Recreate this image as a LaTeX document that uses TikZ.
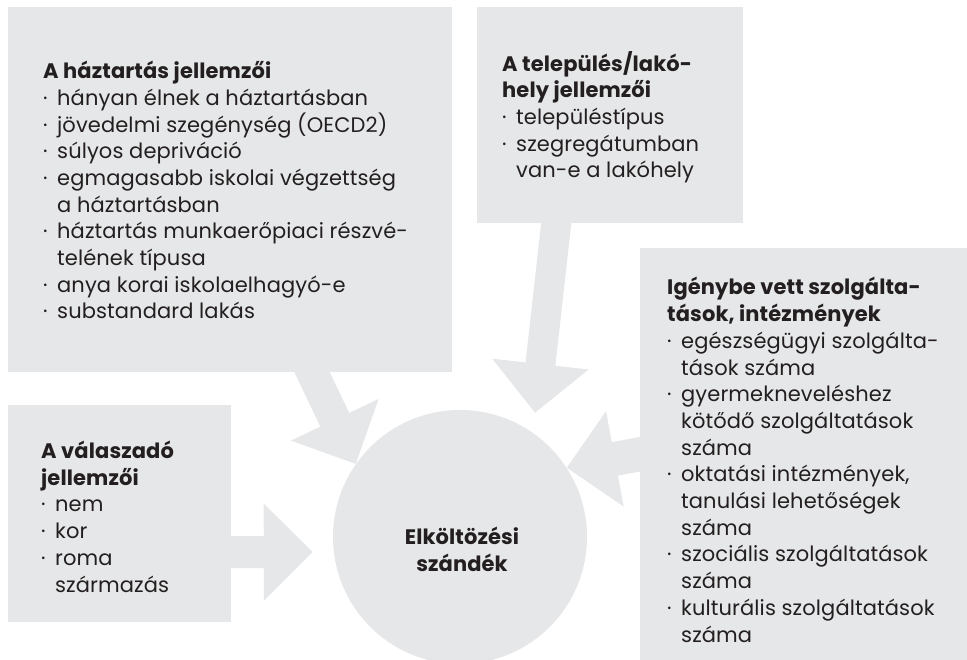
\documentclass[tikz,border=0pt]{standalone}
\usepackage{fontspec}
\setmainfont[LetterSpace=0.5]{Poppins}
\usetikzlibrary{arrows.meta,positioning}
\definecolor{szurke}{HTML}{E6E7E8}
\definecolor{sotet}{HTML}{231F20}
\newcommand{\pont}{\makebox[14pt][l]{·}}
\newcommand{\beh}{\hspace*{14pt}}

\begin{document}
\begin{tikzpicture}[x=1pt, y=-1pt]
    % Define styles
    \tikzstyle{doboz} = [rectangle, fill=szurke, inner sep=0pt, anchor=north west]
    \tikzstyle{lista} = [align=left, inner sep=0pt, anchor=base west, text=sotet, font=\fontsize{21}{26.7}\selectfont]
    \tikzstyle{nyil} = [draw=szurke, line width=32pt, -{Triangle[length=49pt, width=94pt]}]
    \useasboundingbox (0,0) rectangle (967,660);

    % Nodes
    \node [doboz, minimum width=444pt, minimum height=365pt] (haztartas) at (8,7) {};
    \node [doboz, minimum width=266pt, minimum height=216pt] (telepules) at (477,7) {};
    \node [doboz, minimum width=223pt, minimum height=217pt] (valaszado) at (8,405) {};
    \node [doboz, minimum width=327pt, minimum height=412pt] (igenybe) at (640,248) {};
    \node [circle, fill=szurke, minimum size=254pt, inner sep=0pt] (cel) at (460,537) {};

    % Arrows
    \draw [nyil, shorten <=-20pt] ([xshift=82pt]haztartas.south) -- (cel.145);
    \draw [nyil, line width=30pt, shorten <=-20pt] ([xshift=-54pt]telepules.south) -- ([xshift=75pt, yshift=-3pt]cel.north);
    \draw [nyil, shorten <=-5pt] ([yshift=-38.5pt]valaszado.east) -- ([xshift=-20pt, yshift=-15pt]cel.west);
    \draw [nyil, line width=34pt, shorten <=-10pt] (igenybe.west) -- (cel.33);

    % Texts (base = last line)
    \node [lista] (haztartasszoveg) at (43,319) {\textbf{A háztartás jellemzői}\\
        \pont hányan élnek a háztartásban\\
        \pont jövedelmi szegénység (OECD2)\\
        \pont súlyos depriváció\\
        \pont egmagasabb iskolai végzettség\\
        \beh a háztartásban\\
        \pont háztartás munkaerőpiaci részvé-\\
        \beh telének típusa\\
        \pont anya korai iskolaelhagyó-e\\
        \pont substandard lakás};
    \node [lista] (telepulesszoveg) at (502,178) {\textbf{A település/lakó-}\\
        \textbf{hely jellemzői}\\
        \pont településtípus\\
        \pont szegregátumban\\
        \beh van-e a lakóhely};
    \node [lista] (valaszadoszoveg) at (41,592) {\textbf{A válaszadó}\\
        \textbf{jellemzői}\\
        \pont nem\\
        \pont kor\\
        \pont roma\\
        \beh származás};
    \node [lista] (igenybeszoveg) at (667,642) {\textbf{Igénybe vett szolgálta-}\\
        \textbf{tások, intézmények}\\
        \pont egészségügyi szolgálta-\\
        \beh tások száma\\
        \pont gyermekneveléshez\\
        \beh kötődő szolgáltatások\\
        \beh száma\\
        \pont oktatási intézmények,\\
        \beh tanulási lehetőségek\\
        \beh száma\\
        \pont szociális szolgáltatások\\
        \beh száma\\
        \pont kulturális szolgáltatások\\
        \beh száma};
    \node [lista, anchor=center, align=center, font=\fontsize{21}{26.7}\selectfont\bfseries] (celszoveg) at (462,549) {Elköltözési\\szándék};
\end{tikzpicture}
\end{document}
